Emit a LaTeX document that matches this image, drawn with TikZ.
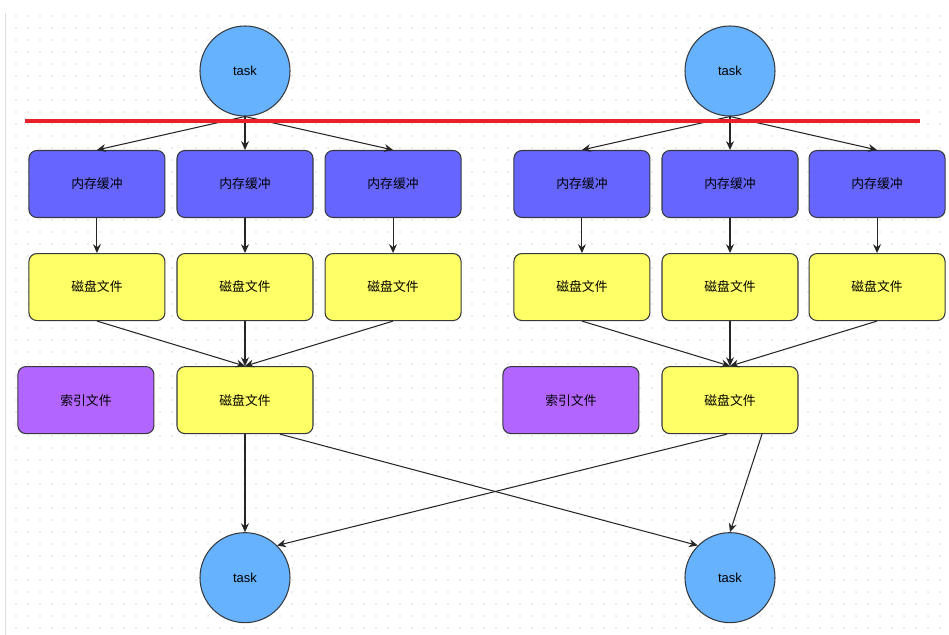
\documentclass[tikz,border=0pt]{standalone}
\usepackage{fontspec}
\setmainfont{Liberation Sans}
\newfontfamily\cjk{Noto Sans CJK SC}
\usepackage{tikz}
\usetikzlibrary{arrows.meta,positioning,calc}
\definecolor{taskblue}{HTML}{66B2FF}
\definecolor{bufblue}{HTML}{6666FF}
\definecolor{diskyellow}{HTML}{FFFF66}
\definecolor{idxpurple}{HTML}{B266FF}
\definecolor{edgegrey}{HTML}{36393D}
\definecolor{cutred}{HTML}{E8202A}
\definecolor{griddot}{HTML}{DADADA}
\tikzset{
  taskcircle/.style={
    circle, draw=edgegrey, fill=taskblue, line width=0.6pt,
    minimum size=1.8cm, inner sep=0pt,
    font=\fontsize{7.4}{9}\selectfont
  },
  filebox/.style={
    rectangle, rounded corners=4.5pt, draw=edgegrey, fill=#1,
    line width=0.6pt, minimum width=2.72cm, minimum height=1.34cm,
    font=\fontsize{7.3}{9}\selectfont\cjk, inner sep=2pt
  },
  filebox/.default=diskyellow,
  flowarrow/.style={
    -{Stealth[length=5pt,width=4.5pt]}, line width=0.6pt, color=black!85
  },
  cutline/.style={
    line width=2.3pt, color=cutred
  },
}
\begin{document}
\begin{tikzpicture}
  \useasboundingbox (0,0) rectangle (18.98,-12.7);
  % dotted canvas
  \foreach \i in {0,...,77}
    \foreach \j in {0,...,51}
      \fill[griddot] (0.32+0.24*\i,-0.32-0.24*\j) circle (0.55pt);
  \draw[gray!25] (0.1,-0.26) -- (0.1,-12.7);

  % tasks on top
  \node[taskcircle] (t1) at (4.9,-1.42) {task};
  \node[taskcircle] (t2) at (14.6,-1.42) {task};

  % memory buffers
  \node[filebox=bufblue] (m2) at (4.9,-3.68) {内存缓冲};
  \node[filebox=bufblue, left=0.22cm of m2] (m1) {内存缓冲};
  \node[filebox=bufblue, right=0.22cm of m2] (m3) {内存缓冲};
  \node[filebox=bufblue] (m5) at (14.6,-3.68) {内存缓冲};
  \node[filebox=bufblue, left=0.22cm of m5] (m4) {内存缓冲};
  \node[filebox=bufblue, right=0.2cm of m5] (m6) {内存缓冲};

  % spill files
  \foreach \k in {1,...,6}
    \node[filebox, below=0.7cm of m\k] (d\k) {磁盘文件};

  % merged files and indexes
  \node[filebox, below=0.9cm of d2] (d7) {磁盘文件};
  \node[filebox=idxpurple, left=0.44cm of d7] (idx1) {索引文件};
  \node[filebox, below=0.9cm of d5] (d8) {磁盘文件};
  \node[filebox=idxpurple, left=0.44cm of d8] (idx2) {索引文件};

  % tasks at the bottom
  \node[taskcircle, below=1.96cm of d7] (t3) {task};
  \node[taskcircle, below=1.96cm of d8] (t4) {task};

  % arrows
  \foreach \k in {1,2,3}
    \draw[flowarrow] (t1.south) -- (m\k.north);
  \foreach \k in {4,5,6}
    \draw[flowarrow] (t2.south) -- (m\k.north);
  \foreach \k in {1,...,6}
    \draw[flowarrow] (m\k) -- (d\k);
  \foreach \k in {1,2,3}
    \draw[flowarrow] (d\k.south) -- (d7.north);
  \foreach \k in {4,5,6}
    \draw[flowarrow] (d\k.south) -- (d8.north);
  \draw[flowarrow] (d7.south) -- (t3.north);
  \draw[flowarrow] ([xshift=0.7cm]d7.south) -- (t4.north west);
  \draw[flowarrow] ([xshift=-0.06cm]d8.south) -- (t3.north east);
  \draw[flowarrow] ([xshift=0.64cm]d8.south) -- (t4.north);

  % cut line
  \coordinate (cutL) at (0.5,-2.42);
  \coordinate (cutR) at (18.4,-2.42);
  \draw[cutline] (cutL) -- (cutR);
\end{tikzpicture}
\end{document}
